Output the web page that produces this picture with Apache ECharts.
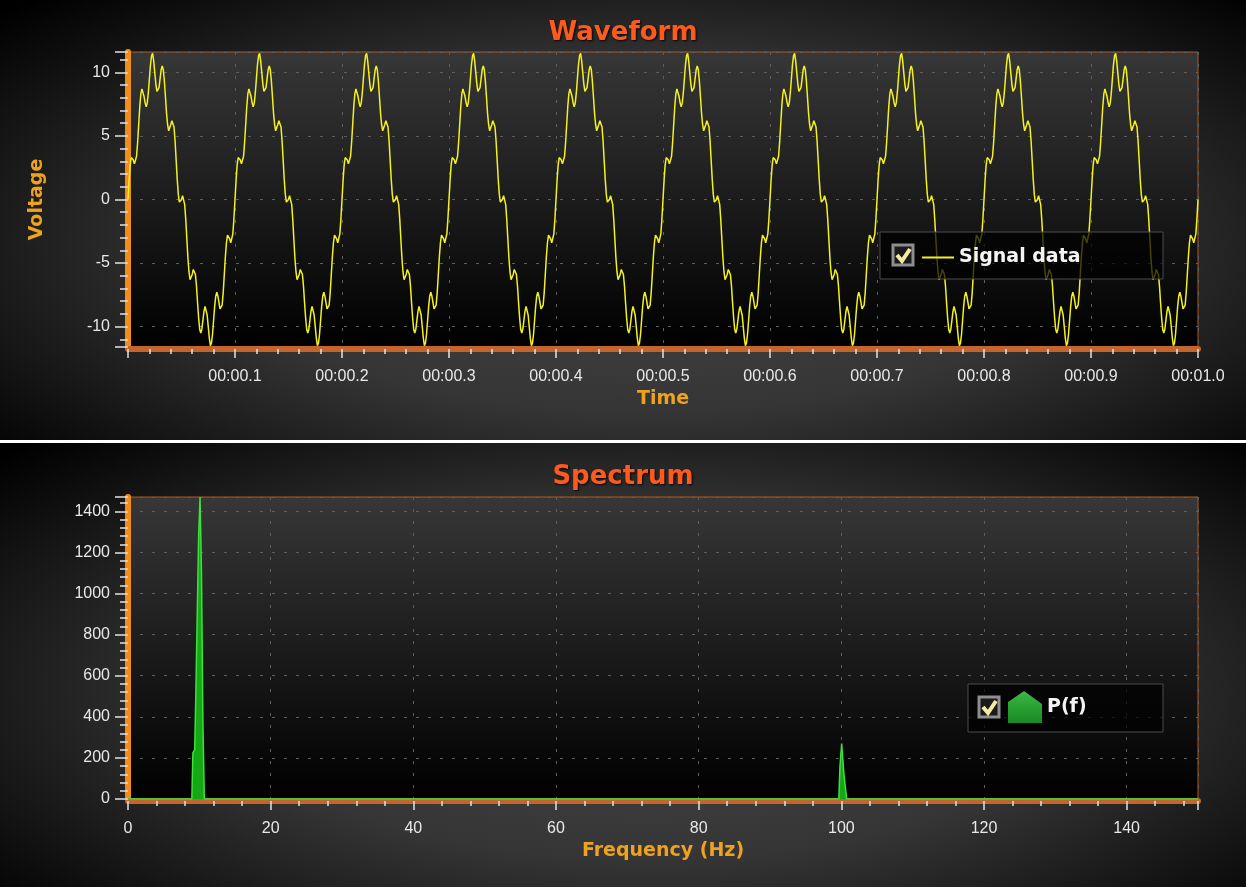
<!DOCTYPE html>
<html lang="en">
<head>
<meta charset="UTF-8">
<title>Waveform and Spectrum</title>
<style>
  html, body { margin: 0; padding: 0; background: #fff; }
  .panel {
    position: absolute; left: 0; width: 1246px;
    background: radial-gradient(ellipse 70% 78% at 52% 55%, #474747 0%, #353535 50%, #000 100%);
  }
  #wave { top: 0; height: 440px; }
  #spec { top: 443px; height: 444px; }
</style>
</head>
<body>
<div id="wave" class="panel"></div>
<div id="spec" class="panel"></div>

<script src="https://cdn.jsdelivr.net/npm/echarts@6.0.0/dist/echarts.min.js"></script>
<script>
// waveform: one sample per ms, values in volts (10 identical cycles)
const sampleStep = 0.001;
const voltage = [
  0,1.5,2.7,3.3,3.4,3.1,2.8,2.8,3.4,4.5,5.9,7.3,8.3,8.7,8.6,8.1,7.6,7.3,7.6,8.4,9.5,10.6,11.3,11.5,10.9,10.0,9.1,8.5,8.4,8.8,9.5,10.2,10.5,10.2,9.3,8.1,6.8,5.9,5.4,5.5,5.9,6.2,6.3,5.7,4.6,3.1,1.6,0.4,-0.2,-0.3,0,0.3,0.2,-0.4,-1.6,-3.1,-4.6,-5.7,-6.3,-6.2,-5.9,-5.5,-5.4,-5.9,-6.8,-8.1,-9.3,-10.2,-10.5,-10.2,-9.5,-8.8,-8.4,-8.5,-9.1,-10.0,-10.9,-11.5,-11.3,-10.6,-9.5,-8.4,-7.6,-7.3,-7.6,-8.1,-8.6,-8.7,-8.3,-7.3,-5.9,-4.5,-3.4,-2.8,-2.8,-3.1,-3.4,-3.3,-2.7,-1.5,
  0,1.5,2.7,3.3,3.4,3.1,2.8,2.8,3.4,4.5,5.9,7.3,8.3,8.7,8.6,8.1,7.6,7.3,7.6,8.4,9.5,10.6,11.3,11.5,10.9,10.0,9.1,8.5,8.4,8.8,9.5,10.2,10.5,10.2,9.3,8.1,6.8,5.9,5.4,5.5,5.9,6.2,6.3,5.7,4.6,3.1,1.6,0.4,-0.2,-0.3,0,0.3,0.2,-0.4,-1.6,-3.1,-4.6,-5.7,-6.3,-6.2,-5.9,-5.5,-5.4,-5.9,-6.8,-8.1,-9.3,-10.2,-10.5,-10.2,-9.5,-8.8,-8.4,-8.5,-9.1,-10.0,-10.9,-11.5,-11.3,-10.6,-9.5,-8.4,-7.6,-7.3,-7.6,-8.1,-8.6,-8.7,-8.3,-7.3,-5.9,-4.5,-3.4,-2.8,-2.8,-3.1,-3.4,-3.3,-2.7,-1.5,
  0,1.5,2.7,3.3,3.4,3.1,2.8,2.8,3.4,4.5,5.9,7.3,8.3,8.7,8.6,8.1,7.6,7.3,7.6,8.4,9.5,10.6,11.3,11.5,10.9,10.0,9.1,8.5,8.4,8.8,9.5,10.2,10.5,10.2,9.3,8.1,6.8,5.9,5.4,5.5,5.9,6.2,6.3,5.7,4.6,3.1,1.6,0.4,-0.2,-0.3,0,0.3,0.2,-0.4,-1.6,-3.1,-4.6,-5.7,-6.3,-6.2,-5.9,-5.5,-5.4,-5.9,-6.8,-8.1,-9.3,-10.2,-10.5,-10.2,-9.5,-8.8,-8.4,-8.5,-9.1,-10.0,-10.9,-11.5,-11.3,-10.6,-9.5,-8.4,-7.6,-7.3,-7.6,-8.1,-8.6,-8.7,-8.3,-7.3,-5.9,-4.5,-3.4,-2.8,-2.8,-3.1,-3.4,-3.3,-2.7,-1.5,
  0,1.5,2.7,3.3,3.4,3.1,2.8,2.8,3.4,4.5,5.9,7.3,8.3,8.7,8.6,8.1,7.6,7.3,7.6,8.4,9.5,10.6,11.3,11.5,10.9,10.0,9.1,8.5,8.4,8.8,9.5,10.2,10.5,10.2,9.3,8.1,6.8,5.9,5.4,5.5,5.9,6.2,6.3,5.7,4.6,3.1,1.6,0.4,-0.2,-0.3,0,0.3,0.2,-0.4,-1.6,-3.1,-4.6,-5.7,-6.3,-6.2,-5.9,-5.5,-5.4,-5.9,-6.8,-8.1,-9.3,-10.2,-10.5,-10.2,-9.5,-8.8,-8.4,-8.5,-9.1,-10.0,-10.9,-11.5,-11.3,-10.6,-9.5,-8.4,-7.6,-7.3,-7.6,-8.1,-8.6,-8.7,-8.3,-7.3,-5.9,-4.5,-3.4,-2.8,-2.8,-3.1,-3.4,-3.3,-2.7,-1.5,
  0,1.5,2.7,3.3,3.4,3.1,2.8,2.8,3.4,4.5,5.9,7.3,8.3,8.7,8.6,8.1,7.6,7.3,7.6,8.4,9.5,10.6,11.3,11.5,10.9,10.0,9.1,8.5,8.4,8.8,9.5,10.2,10.5,10.2,9.3,8.1,6.8,5.9,5.4,5.5,5.9,6.2,6.3,5.7,4.6,3.1,1.6,0.4,-0.2,-0.3,0,0.3,0.2,-0.4,-1.6,-3.1,-4.6,-5.7,-6.3,-6.2,-5.9,-5.5,-5.4,-5.9,-6.8,-8.1,-9.3,-10.2,-10.5,-10.2,-9.5,-8.8,-8.4,-8.5,-9.1,-10.0,-10.9,-11.5,-11.3,-10.6,-9.5,-8.4,-7.6,-7.3,-7.6,-8.1,-8.6,-8.7,-8.3,-7.3,-5.9,-4.5,-3.4,-2.8,-2.8,-3.1,-3.4,-3.3,-2.7,-1.5,
  0,1.5,2.7,3.3,3.4,3.1,2.8,2.8,3.4,4.5,5.9,7.3,8.3,8.7,8.6,8.1,7.6,7.3,7.6,8.4,9.5,10.6,11.3,11.5,10.9,10.0,9.1,8.5,8.4,8.8,9.5,10.2,10.5,10.2,9.3,8.1,6.8,5.9,5.4,5.5,5.9,6.2,6.3,5.7,4.6,3.1,1.6,0.4,-0.2,-0.3,0,0.3,0.2,-0.4,-1.6,-3.1,-4.6,-5.7,-6.3,-6.2,-5.9,-5.5,-5.4,-5.9,-6.8,-8.1,-9.3,-10.2,-10.5,-10.2,-9.5,-8.8,-8.4,-8.5,-9.1,-10.0,-10.9,-11.5,-11.3,-10.6,-9.5,-8.4,-7.6,-7.3,-7.6,-8.1,-8.6,-8.7,-8.3,-7.3,-5.9,-4.5,-3.4,-2.8,-2.8,-3.1,-3.4,-3.3,-2.7,-1.5,
  0,1.5,2.7,3.3,3.4,3.1,2.8,2.8,3.4,4.5,5.9,7.3,8.3,8.7,8.6,8.1,7.6,7.3,7.6,8.4,9.5,10.6,11.3,11.5,10.9,10.0,9.1,8.5,8.4,8.8,9.5,10.2,10.5,10.2,9.3,8.1,6.8,5.9,5.4,5.5,5.9,6.2,6.3,5.7,4.6,3.1,1.6,0.4,-0.2,-0.3,0,0.3,0.2,-0.4,-1.6,-3.1,-4.6,-5.7,-6.3,-6.2,-5.9,-5.5,-5.4,-5.9,-6.8,-8.1,-9.3,-10.2,-10.5,-10.2,-9.5,-8.8,-8.4,-8.5,-9.1,-10.0,-10.9,-11.5,-11.3,-10.6,-9.5,-8.4,-7.6,-7.3,-7.6,-8.1,-8.6,-8.7,-8.3,-7.3,-5.9,-4.5,-3.4,-2.8,-2.8,-3.1,-3.4,-3.3,-2.7,-1.5,
  0,1.5,2.7,3.3,3.4,3.1,2.8,2.8,3.4,4.5,5.9,7.3,8.3,8.7,8.6,8.1,7.6,7.3,7.6,8.4,9.5,10.6,11.3,11.5,10.9,10.0,9.1,8.5,8.4,8.8,9.5,10.2,10.5,10.2,9.3,8.1,6.8,5.9,5.4,5.5,5.9,6.2,6.3,5.7,4.6,3.1,1.6,0.4,-0.2,-0.3,0,0.3,0.2,-0.4,-1.6,-3.1,-4.6,-5.7,-6.3,-6.2,-5.9,-5.5,-5.4,-5.9,-6.8,-8.1,-9.3,-10.2,-10.5,-10.2,-9.5,-8.8,-8.4,-8.5,-9.1,-10.0,-10.9,-11.5,-11.3,-10.6,-9.5,-8.4,-7.6,-7.3,-7.6,-8.1,-8.6,-8.7,-8.3,-7.3,-5.9,-4.5,-3.4,-2.8,-2.8,-3.1,-3.4,-3.3,-2.7,-1.5,
  0,1.5,2.7,3.3,3.4,3.1,2.8,2.8,3.4,4.5,5.9,7.3,8.3,8.7,8.6,8.1,7.6,7.3,7.6,8.4,9.5,10.6,11.3,11.5,10.9,10.0,9.1,8.5,8.4,8.8,9.5,10.2,10.5,10.2,9.3,8.1,6.8,5.9,5.4,5.5,5.9,6.2,6.3,5.7,4.6,3.1,1.6,0.4,-0.2,-0.3,0,0.3,0.2,-0.4,-1.6,-3.1,-4.6,-5.7,-6.3,-6.2,-5.9,-5.5,-5.4,-5.9,-6.8,-8.1,-9.3,-10.2,-10.5,-10.2,-9.5,-8.8,-8.4,-8.5,-9.1,-10.0,-10.9,-11.5,-11.3,-10.6,-9.5,-8.4,-7.6,-7.3,-7.6,-8.1,-8.6,-8.7,-8.3,-7.3,-5.9,-4.5,-3.4,-2.8,-2.8,-3.1,-3.4,-3.3,-2.7,-1.5,
  0,1.5,2.7,3.3,3.4,3.1,2.8,2.8,3.4,4.5,5.9,7.3,8.3,8.7,8.6,8.1,7.6,7.3,7.6,8.4,9.5,10.6,11.3,11.5,10.9,10.0,9.1,8.5,8.4,8.8,9.5,10.2,10.5,10.2,9.3,8.1,6.8,5.9,5.4,5.5,5.9,6.2,6.3,5.7,4.6,3.1,1.6,0.4,-0.2,-0.3,0,0.3,0.2,-0.4,-1.6,-3.1,-4.6,-5.7,-6.3,-6.2,-5.9,-5.5,-5.4,-5.9,-6.8,-8.1,-9.3,-10.2,-10.5,-10.2,-9.5,-8.8,-8.4,-8.5,-9.1,-10.0,-10.9,-11.5,-11.3,-10.6,-9.5,-8.4,-7.6,-7.3,-7.6,-8.1,-8.6,-8.7,-8.3,-7.3,-5.9,-4.5,-3.4,-2.8,-2.8,-3.1,-3.4,-3.3,-2.7,-1.5,
  0
];

// spectrum: only the two peaks rise off the zero line
const freqHz = [0, 8.95, 9.1, 9.35, 9.5, 9.7, 9.9, 10.1, 10.3, 10.5, 10.7, 99.65, 99.8, 100.05, 100.35, 100.75, 150];
const power  = [0, 0, 225, 240, 495, 885, 1275, 1470, 1105, 370, 0, 0, 155, 270, 125, 0, 0];

const LABEL_FONT = 'Liberation Sans';
const NAME_FONT = 'DejaVu Sans';

const dashed = { show: true, lineStyle: { color: '#5e5e5e', type: [3, 9], width: 1 } };
const tickStyle = { color: '#e2e2e2', width: 1.5 };
const labelStyle = { color: '#e8e8e8', fontFamily: LABEL_FONT, fontSize: 16 };
const nameStyle = { color: '#eea21e', fontFamily: NAME_FONT, fontWeight: 'bold', fontSize: 19 };

function plotGrid(top, bottom) {
  return {
    left: 128, right: 48, top: top, bottom: bottom,
    containLabel: false, outerBoundsMode: 'none',
    show: true, borderColor: '#b4581c', borderWidth: 1,
    backgroundColor: {
      type: 'linear', x: 0, y: 0, x2: 0, y2: 1,
      colorStops: [{ offset: 0, color: '#373737' }, { offset: 1, color: '#000' }]
    }
  };
}

function titleOf(text, top) {
  return {
    text: text, left: 'center', top: top,
    textStyle: {
      color: '#ff5a1e', fontFamily: NAME_FONT, fontWeight: 'bold', fontSize: 26,
      textShadowColor: 'rgba(0,0,0,0.9)', textShadowBlur: 2, textShadowOffsetX: 1, textShadowOffsetY: 1
    }
  };
}

function bottomAxis(name, max, interval, formatter) {
  return {
    type: 'value', min: 0, max: max, interval: interval, offset: 2,
    name: name, nameLocation: 'middle', nameGap: 40, nameTextStyle: nameStyle,
    axisLine: { show: true, onZero: false, lineStyle: { color: '#c4642e', width: 6 } },
    axisTick: { show: true, length: 9, lineStyle: tickStyle },
    minorTick: { show: true, splitNumber: 5, length: 5, lineStyle: tickStyle },
    axisLabel: Object.assign({ margin: 20, formatter: formatter }, labelStyle),
    splitLine: dashed
  };
}

function leftAxis(min, max, interval, step, extra) {
  return Object.assign({
    type: 'value', min: min, max: max, interval: interval,
    axisLine: { show: true, onZero: false, lineStyle: { color: '#f28c1a', width: 6 } },
    axisTick: { show: true, length: 13, lineStyle: tickStyle },
    minorTick: { show: true, splitNumber: 5, length: 8, lineStyle: tickStyle },
    axisLabel: Object.assign({
      margin: 18,
      formatter: v => (Math.abs(v / step - Math.round(v / step)) < 1e-6 ? String(Math.round(v)) : '')
    }, labelStyle),
    splitLine: dashed
  }, extra);
}

function checkBox(x, y) {
  return [
    { type: 'rect', z: 7, shape: { x: x, y: y, width: 20, height: 20 },
      style: { fill: '#1b1b1b', stroke: '#8e8e8e', lineWidth: 3 } },
    { type: 'polyline', z: 8, shape: { points: [[x + 4, y + 10], [x + 9, y + 16], [x + 17, y + 4]] },
      style: { stroke: '#f3eca0', lineWidth: 4, fill: null } }
  ];
}

function legendFrame(x, y, w, h) {
  return { type: 'rect', z: 5, shape: { x: x, y: y, width: w, height: h },
    style: { fill: 'rgba(0,0,0,0.72)', stroke: '#4c4c4c', lineWidth: 1 } };
}

const legendText = { color: '#f4f4f4', fontFamily: NAME_FONT, fontWeight: 'bold', fontSize: 19 };

// ---- waveform ----
const waveChart = echarts.init(document.getElementById('wave'), null, { renderer: 'canvas' });
waveChart.setOption({
  animation: false,
  backgroundColor: 'transparent',
  title: titleOf('Waveform', 15),
  grid: plotGrid(52, 93),
  xAxis: bottomAxis('Time', 1, 0.1, v => {
    const s = Math.round(v * 10);
    if (s === 0 || Math.abs(v * 10 - s) > 1e-6) return '';
    return '00:0' + Math.floor(s / 10) + '.' + (s % 10);
  }),
  yAxis: leftAxis(-11.6, 11.6, null, 5, {
    name: 'Voltage', nameLocation: 'middle', nameRotate: 90, nameGap: 81, nameTextStyle: nameStyle
  }),
  legend: {
    left: 922, top: 248, padding: 0, itemWidth: 32, itemHeight: 2, z: 6,
    icon: 'rect', itemStyle: { color: '#f4f21c', borderWidth: 0 },
    selectedMode: false, textStyle: legendText, data: ['Signal data']
  },
  graphic: [legendFrame(880, 232, 283, 47)].concat(checkBox(893, 245)),
  series: [{
    type: 'line', name: 'Signal data',
    data: voltage.map((v, i) => [i * sampleStep, v]),
    symbol: 'none', showSymbol: false, smooth: false,
    lineStyle: { color: '#f4f21c', width: 1.5 },
    itemStyle: { color: '#f4f21c' }
  }]
});

// ---- spectrum ----
const specChart = echarts.init(document.getElementById('spec'), null, { renderer: 'canvas' });
specChart.setOption({
  animation: false,
  backgroundColor: 'transparent',
  title: titleOf('Spectrum', 16),
  grid: plotGrid(54, 88),
  xAxis: bottomAxis('Frequency (Hz)', 150, 20, v => (v % 20 === 0 && v <= 140 ? String(v) : '')),
  yAxis: leftAxis(0, 1470, 200, 200, {}),
  legend: {
    left: 1008, top: 248, padding: 0, itemWidth: 34, itemHeight: 32, z: 6,
    icon: 'path://M0,32 L0,11 L16,0 L34,13 L34,32 Z',
    itemStyle: {
      color: { type: 'linear', x: 0, y: 0, x2: 0, y2: 1,
        colorStops: [{ offset: 0, color: '#3db845' }, { offset: 1, color: '#178a22' }] },
      borderWidth: 0
    },
    selectedMode: false, textStyle: legendText, data: ['P(f)']
  },
  graphic: [legendFrame(968, 241, 195, 48)].concat(checkBox(979, 254)),
  series: [{
    type: 'line', name: 'P(f)',
    data: freqHz.map((f, i) => [f, power[i]]),
    symbol: 'none', showSymbol: false, smooth: false,
    lineStyle: { color: '#3ee03e', width: 1.5 },
    itemStyle: { color: '#1f9c2a' },
    areaStyle: { color: '#14a814', opacity: 1 }
  }]
});
</script>
</body>
</html>
